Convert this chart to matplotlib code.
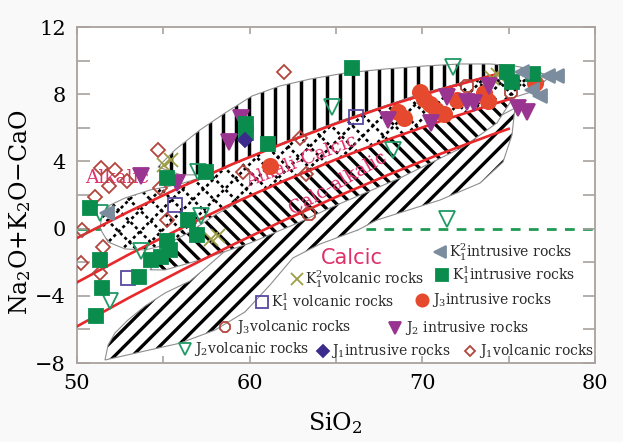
import numpy as np
import matplotlib
matplotlib.use("Agg")
import matplotlib.pyplot as plt
from matplotlib.patches import Polygon
from matplotlib.collections import LineCollection

plt.rcParams["font.family"] = "DejaVu Serif"
plt.rcParams["mathtext.fontset"] = "dejavuserif"

# ─── FIELD OUTLINES (SiO2, Na2O+K2O-CaO) ─────────────────────────────────────

# vertical-ruled field
a_top_x = [54.69, 55.67, 57.12, 58.57, 60.13, 61.75, 63.49, 65.52, 67.83, 70.15, 72.18, 73.91, 75.36, 76.52, 77.27]
a_top_y = [3.67, 4.68, 5.87, 6.88, 7.89, 8.49, 8.90, 9.26, 9.50, 9.68, 9.80, 9.80, 9.68, 9.44, 9.08]
a_bot_x = [77.27, 76.23, 74.49, 72.18, 69.86, 65.23, 62.91, 61.18, 59.44, 57.70, 56.00]
a_bot_y = [9.08, 9.40, 9.25, 8.65, 8.00, 6.40, 5.50, 4.80, 4.00, 3.20, 3.20]

# checkered field
b_top_x = [51.33, 51.45, 51.91, 52.78, 54.23, 55.96, 57.70, 59.44, 61.18, 62.91, 65.23, 69.86, 72.18, 74.49, 76.23, 77.39]
b_top_y = [0.04, 0.81, 1.40, 1.82, 2.30, 2.65, 3.20, 4.00, 4.80, 5.50, 6.40, 8.00, 8.65, 9.25, 9.40, 9.08]
b_bot_x = [76.5, 74.0, 72.0, 70.0, 68.0, 66.0, 64.0, 62.0, 60.0, 57.99, 56.54, 55.10, 53.94, 52.78, 51.80, 51.45]
b_bot_y = [8.20, 7.38, 6.73, 6.04, 5.30, 4.52, 3.71, 2.85, 1.95, 0.81, -0.20, -0.98, -1.27, -1.21, -0.80, -0.20]

# back-slash field
c_top_x = [54.23, 55.10, 56.54, 57.99, 59.44, 61.18, 62.0, 65.0, 68.0, 71.0, 73.5, 75.36]
c_top_y = [-2.45, -1.20, 0.10, 1.20, 2.10, 2.90, 3.25, 4.50, 5.70, 6.80, 7.60, 7.95]
c_bot_x = [74.32, 72.35, 68.70, 64.65, 62.91, 60.02, 57.12, 55.10]
c_bot_y = [6.29, 4.85, 3.01, 1.23, 0.39, -0.86, -1.87, -2.46]

# forward-slash field
d_top_x = [51.62, 51.80, 52.20, 52.95, 53.94, 55.10, 56.54, 57.5, 58.5, 60.0, 63.0, 65.0, 68.7, 72.4, 74.3, 75.36]
d_top_y = [-7.82, -6.93, -6.21, -5.44, -4.61, -3.83, -3.12, -2.30, -1.40, -0.60, 0.70, 1.60, 3.30, 5.20, 6.60, 7.17]
d_bot_x = [75.19, 74.67, 73.34, 71.02, 67.37, 66.27, 64.07, 62.50, 61.18, 59.73, 57.99, 55.96, 53.65]
d_bot_y = [5.57, 3.96, 2.71, 1.70, 0.51, -0.08, -0.92, -1.75, -3.35, -4.96, -6.04, -6.82, -7.35]

# MALI boundaries
bound_x = [50, 53, 56, 59, 62, 65, 68, 71, 74, 75]
alk_y = [-0.56, 1.01, 2.47, 3.84, 5.09, 6.25, 7.31, 8.26, 9.11, 9.37]
alkcal_y = [-3.20, -1.54, 0.01, 1.49, 2.85, 4.12, 5.30, 6.38, 7.38, 7.69]
calcalk_y = [-5.82, -4.12, -2.51, -0.97, 0.50, 1.88, 3.19, 4.43, 5.58, 5.94]

# ─── SAMPLES ────────────────────────────────────────────────────────────────

j1v_x = [51.39, 52.20, 51.85, 52.90, 51.04, 54.69, 54.81, 61.99, 62.91, 63.26, 59.61, 50.29, 51.51, 50.23, 51.33, 55.21]
j1v_y = [3.61, 3.49, 2.54, 2.83, 1.88, 4.68, 2.42, 9.32, 5.39, 3.25, 3.37, -0.08, -1.10, -2.05, -2.64, 0.51]

j3v_x = [63.43, 72.58, 75.13]
j3v_y = [0.87, 8.49, 8.13]

j2v_x = [57.01, 64.77, 71.77, 68.30, 71.42, 51.91, 57.18, 53.71, 51.33]
j2v_y = [3.37, 7.24, 9.62, 4.68, 0.57, -4.32, 0.75, -1.33, 0.93]

k11v_x = [55.67, 52.95, 66.16]
k11v_y = [1.39, -2.94, 6.64]

k12v_x = [55.04, 55.44, 57.76, 58.16, 74.03, 74.38]
k12v_y = [3.79, 4.08, -0.62, -0.44, 8.96, 9.14]

j3i_x = [61.18, 68.59, 68.93, 69.86, 70.09, 70.44, 70.79, 71.25, 72.00, 73.57, 73.80, 76.52]
j3i_y = [3.73, 6.94, 6.58, 8.13, 7.71, 7.42, 7.06, 6.82, 7.65, 8.07, 7.60, 8.67]

j2i_x = [53.71, 55.79, 58.80, 59.50, 68.01, 70.50, 71.42, 72.58, 72.99, 73.86, 75.54, 76.06]
j2i_y = [3.12, 2.71, 5.15, 6.58, 6.46, 6.28, 7.83, 7.54, 7.48, 8.49, 7.17, 6.94]

k11i_x = [50.75, 51.33, 51.45, 51.10, 53.59, 54.28, 54.86, 55.39, 55.21, 56.43, 56.95, 55.21, 57.47,
          59.79, 59.79, 61.06, 65.92, 74.90, 76.40, 75.19]
k11i_y = [1.23, -1.87, -3.54, -5.20, -2.88, -1.87, -1.69, -1.27, -0.74, 0.51, -0.38, 3.01, 3.37,
          6.23, 5.69, 5.04, 9.56, 9.32, 9.20, 8.73]

j1i_x = [59.73]
j1i_y = [5.27]

k12i_x = [51.74, 75.77, 77.27, 77.79, 76.35, 76.81]
k12i_y = [0.93, 9.32, 9.08, 9.08, 8.25, 7.89]

GREEN = "#0a8c4c"
RED_ORANGE = "#e64a2e"
PURPLE = "#993590"
SLATE = "#7a8c9e"
OLIVE = "#9d9d45"
VIOLET = "#5848a2"
BRICK = "#b2463c"
TEAL = "#1f9a66"
NAVY = "#3a2b8c"
LABEL_RED = "#e0306a"
LINE_RED = "#e8282a"

# (x, y, marker, size, face, edge, label, legend position, text position)
series = [
    (j1v_x, j1v_y, "D", 7, "none", BRICK, r"$\mathrm{J}_1$volcanic rocks", (0.759, 0.036), 0.776),
    (j3v_x, j3v_y, "8", 10, "none", BRICK, r"$\mathrm{J}_3$volcanic rocks", (0.286, 0.107), 0.307),
    (j2v_x, j2v_y, "v", 11, "none", TEAL, r"$\mathrm{J}_2$volcanic rocks", (0.2085, 0.042), 0.226),
    (k11v_x, k11v_y, "s", 10, "none", VIOLET, r"$\mathrm{K}_1^1$ volcanic rocks", (0.357, 0.182), 0.375),
    (k12v_x, k12v_y, "x", 10, OLIVE, OLIVE, r"$\mathrm{K}_1^2$volcanic rocks", (0.425, 0.250), 0.440),
    (j3i_x, j3i_y, "o", 11, RED_ORANGE, RED_ORANGE, r"$\mathrm{J}_3$intrusive rocks", (0.666, 0.1875), 0.685),
    (j2i_x, j2i_y, "v", 11, PURPLE, PURPLE, r"$\mathrm{J}_2$ intrusive rocks", (0.614, 0.104), 0.633),
    (k11i_x, k11i_y, "s", 10.5, GREEN, GREEN, r"$\mathrm{K}_1^1$intrusive rocks", (0.705, 0.262), 0.724),
    (j1i_x, j1i_y, "D", 7.5, NAVY, NAVY, r"$\mathrm{J}_1$intrusive rocks", (0.475, 0.036), 0.490),
    (k12i_x, k12i_y, "<", 10, SLATE, SLATE, r"$\mathrm{K}_1^2$intrusive rocks", (0.701, 0.330), 0.718),
]

# ─── HELPERS ────────────────────────────────────────────────────────────────

def ruled_field(ax, xs, ys, angle, spacing, lw, dash=None, zorder=2):
    """White-filled outline with parallel black rules clipped to it (angle/spacing in pixels)."""
    pts = np.column_stack([xs, ys])
    patch = Polygon(pts, closed=True, facecolor="white", edgecolor="none", zorder=zorder)
    ax.add_patch(patch)
    pix = ax.transData.transform(pts)
    segs = []
    for ang in np.atleast_1d(angle):
        a = np.deg2rad(ang)
        d = np.array([np.cos(a), np.sin(a)])
        n = np.array([-np.sin(a), np.cos(a)])
        cn = pix @ n
        cd = pix @ d
        for c in np.arange(cn.min() - spacing, cn.max() + spacing, spacing):
            p0 = c * n + (cd.min() - 5) * d
            p1 = c * n + (cd.max() + 5) * d
            segs.append(ax.transData.inverted().transform(np.array([p0, p1])))
    ls = (0, dash) if dash else "-"
    lc = LineCollection(segs, colors="black", linewidths=lw, linestyles=ls, zorder=zorder + 0.1)
    ax.add_collection(lc)
    lc.set_clip_path(patch)
    ax.add_patch(Polygon(pts, closed=True, fill=False, edgecolor="#8e8e8e",
                         linewidth=0.8, zorder=zorder + 0.2))

# ─── FIGURE ─────────────────────────────────────────────────────────────────

fig = plt.figure(figsize=(6.23, 4.42), dpi=100, facecolor="#f9f9f9")
ax = fig.add_axes([0.1236, 0.1787, 0.8315, 0.7602])
ax.set_xlim(50, 80)
ax.set_ylim(-8, 12)

ax.plot([50, 80], [0, 0], color="#1f9a50", lw=2, linestyle=(0, (3.5, 3)), zorder=1)

ruled_field(ax, a_top_x + a_bot_x, a_top_y + a_bot_y, 90, 13, 2.5, zorder=2)
ruled_field(ax, d_top_x + d_bot_x, d_top_y + d_bot_y, 45, 12.5, 2.4, zorder=3)
ruled_field(ax, c_top_x + c_bot_x, c_top_y + c_bot_y, -45, 10.5, 2.4, zorder=4)
ruled_field(ax, b_top_x + b_bot_x, b_top_y + b_bot_y, [45, -45], 15, 1.9,
            dash=(1.2, 1.2), zorder=5)

for by in (alk_y, alkcal_y, calcalk_y):
    ax.plot(bound_x, by, color=LINE_RED, lw=1.9, zorder=6)

ax.text(52.3, 3.0, "Alkalic", color=LABEL_RED, fontsize=13.5, ha="center", va="center", zorder=7)
ax.text(63.0, 4.0, "Alkali-Calcic", color=LABEL_RED, fontsize=13.5, ha="center", va="center",
        rotation=21, rotation_mode="anchor", zorder=7)
ax.text(65.1, 2.7, "Calc-alkalic", color=LABEL_RED, fontsize=13.5, ha="center", va="center",
        rotation=30, rotation_mode="anchor", zorder=7)
ax.text(65.9, -1.75, "Calcic", color=LABEL_RED, fontsize=15, ha="center", va="center",
        family="DejaVu Sans", zorder=7)

for xs, ys, m, ms, fc, ec, lab, (lx, ly), tx in series:
    ax.plot(xs, ys, linestyle="none", marker=m, markersize=ms, markerfacecolor=fc,
            markeredgecolor=ec, markeredgewidth=1.3, zorder=8)
    ax.plot([lx], [ly], transform=ax.transAxes, linestyle="none", marker=m,
            markersize=ms * 0.8, markerfacecolor=fc, markeredgecolor=ec,
            markeredgewidth=1.3, zorder=9, clip_on=False)
    ax.text(tx, ly, lab, transform=ax.transAxes, fontsize=10, color="#2a2a2a",
            ha="left", va="center", zorder=9)

# axes styling
FRAME = "#a9a29e"
for s in ax.spines.values():
    s.set_color(FRAME)
    s.set_linewidth(1.3)
ax.set_xticks([50, 60, 70, 80])
ax.set_xticks([55, 65, 75], minor=True)
ax.set_yticks([-8, -4, 0, 4, 8, 12])
ax.set_yticks([-6, -2, 2, 6, 10], minor=True)
ax.tick_params(axis="x", which="both", direction="in", top=True, length=5, width=1.2,
               color=FRAME, labelsize=15, pad=8)
ax.tick_params(axis="y", which="both", direction="in", right=True, length=9, width=1.2,
               color=FRAME, labelsize=15, pad=8)

ax.set_xlabel(r"SiO$_2$", fontsize=17)
ax.set_ylabel(r"Na$_2$O+K$_2$O$-$CaO", fontsize=17)
ax.xaxis.set_label_coords(0.498, -0.14)
ax.yaxis.set_label_coords(-0.085, 0.45)

fig.savefig("out.png", dpi=100, facecolor=fig.get_facecolor())
